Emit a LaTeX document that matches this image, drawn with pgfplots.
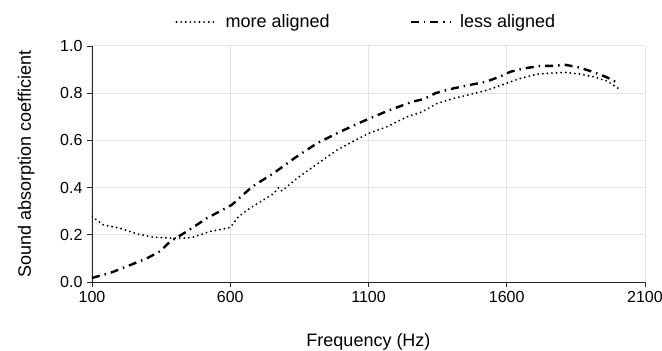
\documentclass[border=0pt]{standalone}
\usepackage{pgfplots}
\pgfplotsset{compat=1.18}
\usepackage{fontspec}
\setmainfont{Liberation Sans}
\begin{document}
\begin{tikzpicture}
\useasboundingbox (-92pt,-69pt) rectangle (570pt,282pt);
\begin{axis}[
  at={(0pt,0pt)}, anchor=origin,
  scale only axis, width=553pt, height=236pt,
  xmin=100, xmax=2100, ymin=0, ymax=1,
  xtick={100,600,1100,1600,2100},
  ytick={0,0.2,0.4,0.6,0.8,1.0},
  axis x line*=bottom, axis y line*=left,
  axis line style={black!85, line width=0.9pt, -},
  grid=major,
  major grid style={gray!22, line width=1pt},
  tick style={black!85, line width=0.9pt},
  major tick length=5pt,
  tick align=outside,
  /pgf/number format/assume math mode=true,
  /pgf/number format/1000 sep={},
  yticklabel style={/pgf/number format/fixed, /pgf/number format/fixed zerofill, /pgf/number format/precision=1},
  ticklabel style={font=\fontsize{16}{19}\selectfont},
  xticklabel style={yshift=-1pt},
  yticklabel style={xshift=-1pt},
  xlabel={Frequency (Hz)},
  ylabel={Sound absorption coefficient},
  xlabel style={at={(axis description cs:0.5,0)}, anchor=base, yshift=-64pt, font=\fontsize{18}{21}\selectfont},
  ylabel style={at={(axis description cs:-0.1103,0.5)}, anchor=base, font=\fontsize{18}{21}\selectfont},
  legend columns=2,
  legend style={at={(axis description cs:0.496,1)}, anchor=center, yshift=24pt, draw=none, fill=none,
    font=\fontsize{18}{21}\selectfont, inner sep=0pt,
    /tikz/every odd column/.append style={column sep=6pt},
    /tikz/every even column/.append style={column sep=78pt}},
  legend image code/.code={\draw[#1] (0pt,0pt) -- (40pt,0pt);},
]
\addplot[black, line width=2.1pt, line cap=round, dash pattern=on 0pt off 4.6pt] coordinates {
(100,0.277) (141,0.242) (201,0.228) (262,0.204) (322,0.190) (383,0.186) (443,0.186) (466,0.190)
(527,0.214) (600,0.231) (630,0.277) (672,0.313) (720,0.348) (757,0.375) (775,0.400) (787,0.386)
(842,0.440) (914,0.500) (986,0.559) (1059,0.605) (1101,0.630) (1167,0.658) (1239,0.700) (1294,0.721)
(1349,0.757) (1409,0.778) (1469,0.795) (1530,0.813) (1596,0.841) (1650,0.863) (1711,0.881) (1771,0.886)
(1813,0.888) (1867,0.881) (1916,0.869) (1964,0.851) (2004,0.820)
};
\addlegendentry{more aligned}
\addplot[black, line width=2.4pt, dash pattern=on 8pt off 5pt on 1.5pt off 5pt] coordinates {
(100,0.017) (129,0.027) (165,0.038) (226,0.066) (298,0.100) (346,0.130) (383,0.172) (443,0.214)
(515,0.270) (606,0.327) (679,0.404) (757,0.461) (835,0.527) (914,0.588) (998,0.637) (1082,0.682)
(1167,0.724) (1258,0.764) (1300,0.775) (1342,0.800) (1391,0.816) (1433,0.827) (1475,0.837) (1524,0.848)
(1572,0.869) (1614,0.891) (1662,0.905) (1717,0.915) (1765,0.916) (1813,0.920) (1862,0.909) (1910,0.891)
(1959,0.869) (2001,0.844)
};
\addlegendentry{less aligned}
\end{axis}
\end{tikzpicture}
\end{document}
